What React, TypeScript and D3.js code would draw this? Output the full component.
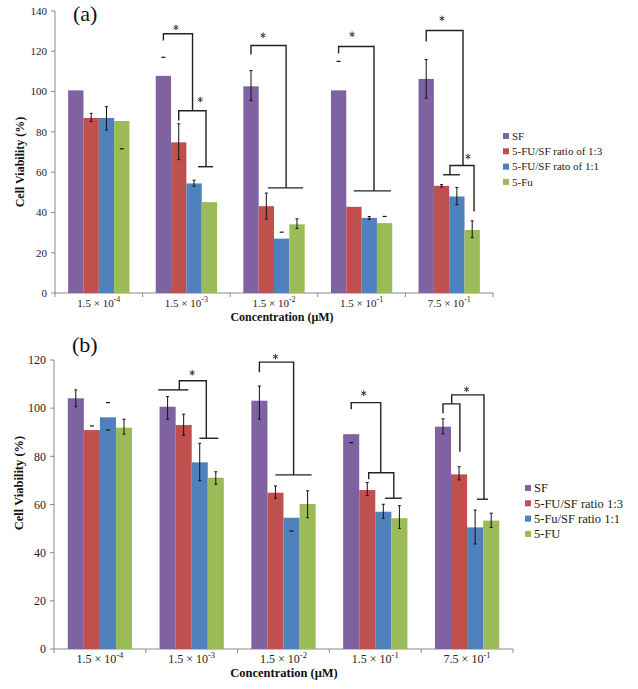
import React from "react";
import * as d3 from "d3";

// ---------- DATA ----------
const tickBases = ["1.5", "1.5", "1.5", "1.5", "7.5"];
const tickExps = ["-4", "-3", "-2", "-1", "-1"];

const seriesNamesA = ["SF", "5-FU/SF ratio of 1:3", "5-FU/SF rato of 1:1", "5-Fu"];
const seriesNamesB = ["SF", "5-FU/SF ratio 1:3", "5-Fu/SF ratio 1:1", "5-FU"];

// Panel (a) values
const sfA = [100.6, 107.8, 102.6, 100.6, 106.3];
const r13A = [86.9, 74.8, 43.1, 42.8, 53.2];
const r11A = [86.9, 54.4, 27.0, 37.3, 47.9];
const fuA = [85.4, 45.1, 34.1, 34.7, 31.3];

// Panel (a) error bars [low, high] or null
const sfErrA = [null, null, [95.5, 110.4], null, [96.7, 115.9]];
const r13ErrA = [[85.1, 89.2], [66.2, 84.0], [36.7, 49.6], null, [52.6, 53.8]];
const r11ErrA = [[80.9, 92.5], [53.0, 56.0], null, [36.6, 38.0], [43.8, 52.4]];
const fuErrA = [null, null, [32.0, 36.8], null, [27.5, 35.8]];

// Panel (a) stray error caps [group, series, value]
const dashesA = [[0, 3, 71.6], [1, 0, 117], [2, 2, 30.2], [3, 0, 115], [3, 3, 38]];

// Panel (b) values
const sfB = [104.1, 100.6, 103.1, 89.2, 92.3];
const r13B = [90.9, 93.0, 64.9, 66.0, 72.5];
const r11B = [96.2, 77.5, 54.5, 57.0, 50.5];
const fuB = [91.9, 71.1, 60.2, 54.3, 53.3];

const sfErrB = [[100.6, 107.6], [95.4, 104.8], [95.4, 109.2], null, [89.3, 95.6]];
const r13ErrB = [null, [88.7, 97.5], [62.6, 67.7], [63.7, 69.1], [70.2, 75.7]];
const r11ErrB = [null, [69.9, 85.4], null, [54.3, 60.1], [43.6, 57.7]];
const fuErrB = [[89.2, 95.4], [68.4, 73.6], [54.5, 65.7], [50.1, 59.5], [50.5, 56.4]];

const dashesB = [[0, 1, 92.6], [0, 2, 102.3], [0, 2, 90.9], [2, 2, 49], [3, 0, 85.7]];

// Significance brackets: group, polyline points [series slot, value]
const bracketsA = [
  { g: 1, pts: [[0, 125.4], [0, 128.7], [1.9, 128.7], [1.9, 90.5]] },
  { g: 1, pts: [[1, 85.6], [1, 90.5], [2.78, 90.5], [2.78, 62.7]] },
  { g: 1, pts: [[2.26, 62.7], [3.24, 62.7]] },
  { g: 2, pts: [[0, 118.4], [0, 122.9], [2.29, 122.9], [2.29, 52.2]] },
  { g: 2, pts: [[1.1, 52.2], [3.4, 52.2]] },
  { g: 3, pts: [[0, 118.9], [0, 122.4], [2.31, 122.4], [2.31, 50.7]] },
  { g: 3, pts: [[1.0, 50.7], [3.42, 50.7]] },
  { g: 4, pts: [[0, 124.9], [0, 130.3], [2.4, 130.3], [2.4, 63.3]] },
  { g: 4, pts: [[1.55, 58.7], [1.55, 63.3], [3.12, 63.3], [3.12, 40.4]] },
  { g: 4, pts: [[1.1, 58.7], [2.2, 58.7]] },
];
const starsA = [
  { g: 1, x: 0.82, v: 131.8 },
  { g: 1, x: 2.4, v: 96 },
  { g: 2, x: 0.79, v: 127.9 },
  { g: 3, x: 0.88, v: 128.4 },
  { g: 4, x: 1.03, v: 136.3 },
  { g: 4, x: 2.73, v: 67.7 },
];

const bracketsB = [
  { g: 1, pts: [[-0.58, 107.6], [1.29, 107.6]] },
  { g: 1, pts: [[0.73, 107.6], [0.73, 111.4], [2.41, 111.4], [2.41, 87.5]] },
  { g: 1, pts: [[1.98, 87.5], [3.16, 87.5]] },
  { g: 2, pts: [[0, 114.9], [0, 119.1], [2.13, 119.1], [2.13, 72.3]] },
  { g: 2, pts: [[1.0, 72.3], [3.25, 72.3]] },
  { g: 3, pts: [[0, 99.5], [0, 102.3], [1.84, 102.3], [1.84, 73.2]] },
  { g: 3, pts: [[1.09, 70.5], [1.09, 73.2], [2.65, 73.2], [2.65, 62.6]] },
  { g: 3, pts: [[2.1, 62.6], [3.15, 62.6]] },
  { g: 4, pts: [[0.54, 101.8], [0.54, 105.5], [2.55, 105.5], [2.55, 62.2]] },
  { g: 4, pts: [[2.11, 62.2], [2.8, 62.2]] },
  { g: 4, pts: [[0, 97.9], [0, 101.8], [1.05, 101.8], [1.05, 81.9]] },
];
const starsB = [
  { g: 1, x: 1.53, v: 114.7 },
  { g: 2, x: 1.0, v: 121.4 },
  { g: 3, x: 0.78, v: 106.2 },
  { g: 4, x: 1.47, v: 107.8 },
];

const colors = ["#7E62A1", "#C0504D", "#4F81BD", "#9BBB59"];
const FONT = "'Liberation Serif', 'Times New Roman', serif";

type PanelProps = {
  label: string;
  values: number[][];
  errs: (number[] | null)[][];
  dashes: number[][];
  brackets: { g: number; pts: number[][] }[];
  stars: { g: number; x: number; v: number }[];
  names: string[];
  yMax: number;
  yTop: number;
  yBottom: number;
  xLeft: number;
  xRight: number;
  fs: number;
  titleFs: number;
  legendX: number;
  legendY: number;
  legendGap: number;
  legendFs: number;
  yLabelY: number;
  xTitleX: number;
  xTitleY: number;
  labelPos: [number, number];
};

const starPath = d3.symbol(d3.symbolAsterisk, 22)() as string;

function Panel(p: PanelProps) {
  const n = p.values[0].length;
  const groups = d3.range(n);
  const x0 = d3.scaleBand<number>().domain(groups).range([p.xLeft, p.xRight]).paddingInner(0.3).paddingOuter(0.15);
  const x1 = d3.scaleBand<number>().domain(d3.range(p.values.length)).range([0, x0.bandwidth()]);
  const y = d3.scaleLinear().domain([0, p.yMax]).range([p.yBottom, p.yTop]);
  const bw = x1.bandwidth();
  const slotX = (g: number, s: number) => (x0(g) as number) + (s + 0.5) * bw;
  const ticks = d3.range(0, p.yMax + 1, 20);
  const line = d3.line<number[]>();
  const step = x0.step();

  return (
    <g>
      {/* axes */}
      <line x1={p.xLeft} x2={p.xLeft} y1={p.yTop} y2={p.yBottom} stroke="#8a8a8a" strokeWidth={1} />
      <line x1={p.xLeft} x2={p.xRight} y1={p.yBottom} y2={p.yBottom} stroke="#8a8a8a" strokeWidth={1} />
      {ticks.map((t) => (
        <g key={t}>
          <line x1={p.xLeft - 4} x2={p.xLeft} y1={y(t)} y2={y(t)} stroke="#8a8a8a" />
          <text x={p.xLeft - 8} y={y(t)} dy="0.35em" textAnchor="end" fontSize={p.fs} fontFamily={FONT} fill="#222">
            {t}
          </text>
        </g>
      ))}
      {d3.range(n + 1).map((i) => (
        <line key={i} x1={p.xLeft + i * step} x2={p.xLeft + i * step} y1={p.yBottom} y2={p.yBottom + 4} stroke="#8a8a8a" />
      ))}
      {groups.map((g) => (
        <text key={g} x={(x0(g) as number) + x0.bandwidth() / 2} y={p.yBottom + 13.5} textAnchor="middle" fontSize={p.fs} fontFamily={FONT} fill="#222">
          {tickBases[g] + " × 10"}
          <tspan dy={-p.fs * 0.38} fontSize={p.fs * 0.72}>{tickExps[g]}</tspan>
        </text>
      ))}
      {/* bars */}
      {p.values.map((vals, s) =>
        vals.map((v, g) => (
          <rect key={s + "-" + g} x={slotX(g, s) - bw / 2} width={bw} y={y(v)} height={p.yBottom - y(v)} fill={colors[s]} />
        ))
      )}
      {/* error bars */}
      {p.errs.map((arr, s) =>
        arr.map((e, g) =>
          e ? (
            <g key={"e" + s + "-" + g} stroke="#111" strokeWidth={1}>
              <line x1={slotX(g, s)} x2={slotX(g, s)} y1={y(e[0])} y2={y(e[1])} />
              <line x1={slotX(g, s) - 1.5} x2={slotX(g, s) + 1.5} y1={y(e[0])} y2={y(e[0])} />
              <line x1={slotX(g, s) - 1.5} x2={slotX(g, s) + 1.5} y1={y(e[1])} y2={y(e[1])} />
            </g>
          ) : null
        )
      )}
      {p.dashes.map((d, i) => (
        <line key={"d" + i} x1={slotX(d[0], d[1]) - 2} x2={slotX(d[0], d[1]) + 2} y1={y(d[2])} y2={y(d[2])} stroke="#111" strokeWidth={1.2} />
      ))}
      {/* brackets */}
      {p.brackets.map((b, i) => (
        <path key={"b" + i} d={line(b.pts.map(([sx, v]) => [slotX(b.g, sx), y(v)])) as string} fill="none" stroke="#222" strokeWidth={1.4} />
      ))}
      {p.stars.map((s, i) => (
        <path key={"s" + i} transform={`translate(${slotX(s.g, s.x)},${y(s.v)})`} d={starPath} fill="none" stroke="#333" strokeWidth={1} />
      ))}
      {/* titles */}
      <text x={p.labelPos[0]} y={p.labelPos[1]} fontSize={22} fontFamily={FONT} fill="#111">
        {p.label}
      </text>
      <text transform={`translate(${p.xLeft - 31},${p.yLabelY}) rotate(-90)`} textAnchor="middle" fontSize={p.titleFs} fontWeight="bold" fontFamily={FONT} fill="#111">
        Cell Viability (%)
      </text>
      <text x={p.xTitleX} y={p.xTitleY} textAnchor="middle" fontSize={p.titleFs} fontWeight="bold" fontFamily={FONT} fill="#111">
        Concentration (μM)
      </text>
      {/* legend */}
      {p.names.map((nm, i) => (
        <g key={nm} transform={`translate(${p.legendX},${p.legendY + i * p.legendGap})`}>
          <rect x={0} y={-3} width={6} height={6} fill={colors[i]} />
          <text x={9} y={0} dy="0.35em" fontSize={p.legendFs} fontFamily={FONT} fill="#222">
            {nm}
          </text>
        </g>
      ))}
    </g>
  );
}

export default function App() {
  return (
    <div style={{ position: "absolute", left: 0, top: 0 }}>
      <svg width={638} height={689} style={{ display: "block", background: "#fff" }}>
        <Panel
          label="(a)"
          values={[sfA, r13A, r11A, fuA]}
          errs={[sfErrA, r13ErrA, r11ErrA, fuErrA]}
          dashes={dashesA}
          brackets={bracketsA}
          stars={starsA}
          names={seriesNamesA}
          yMax={140}
          yTop={11}
          yBottom={293}
          xLeft={55}
          xRight={493}
          fs={11}
          titleFs={12}
          legendX={503}
          legendY={136}
          legendGap={15.3}
          legendFs={11}
          yLabelY={162}
          xTitleX={282}
          xTitleY={321}
          labelPos={[73, 21]}
        />
        <Panel
          label="(b)"
          values={[sfB, r13B, r11B, fuB]}
          errs={[sfErrB, r13ErrB, r11ErrB, fuErrB]}
          dashes={dashesB}
          brackets={bracketsB}
          stars={starsB}
          names={seriesNamesB}
          yMax={120}
          yTop={360}
          yBottom={649}
          xLeft={54}
          xRight={513}
          fs={12}
          titleFs={12.5}
          legendX={525}
          legendY={488}
          legendGap={15.3}
          legendFs={12.5}
          yLabelY={483}
          xTitleX={284}
          xTitleY={677}
          labelPos={[72, 352]}
        />
      </svg>
    </div>
  );
}
